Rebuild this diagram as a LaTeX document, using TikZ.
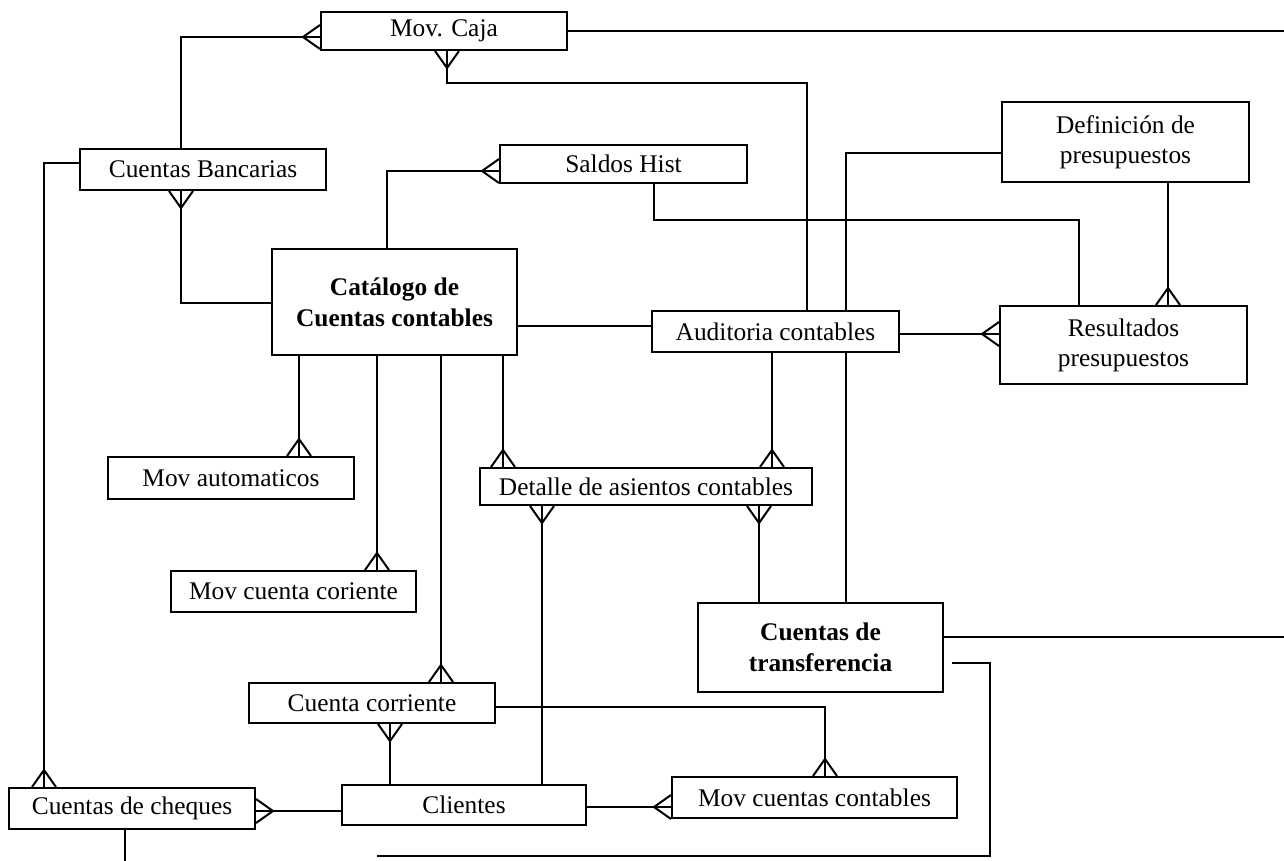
\documentclass[tikz,border=0pt]{standalone}
\usepackage{fontspec}
\setmainfont{Liberation Serif}
\usetikzlibrary{arrows.meta}

% crow's foot ("many" end of a relationship): two prongs opening towards the entity
\pgfdeclarearrow{
  name = Crow,
  parameters = {\the\pgfarrowlength,\the\pgfarrowwidth},
  setup code = {
    \pgfarrowssettipend{0pt}
    \pgfarrowssetlineend{0pt}
    \pgfarrowssetbackend{-\pgfarrowlength}
    \pgfarrowshullpoint{0pt}{0.5\pgfarrowwidth}
    \pgfarrowshullpoint{0pt}{-0.5\pgfarrowwidth}
    \pgfarrowshullpoint{-\pgfarrowlength}{0pt}
    \pgfarrowssavethe\pgfarrowlength
    \pgfarrowssavethe\pgfarrowwidth
  },
  drawing code = {
    \pgfsetdash{}{0pt}
    \pgfpathmoveto{\pgfqpoint{0pt}{0.5\pgfarrowwidth}}
    \pgfpathlineto{\pgfqpoint{-\pgfarrowlength}{0pt}}
    \pgfpathlineto{\pgfqpoint{0pt}{-0.5\pgfarrowwidth}}
    \pgfusepathqstroke
  },
  defaults = {length = 8.5pt, width = 12pt}
}

\pgfdeclarelayer{bg}
\pgfsetlayers{bg,main}

\begin{document}
\begin{tikzpicture}[x=0.5pt,y=-0.5pt,
  ent/.style={draw, line width=1pt, fill=white, inner sep=0pt, align=center,
    minimum width=123pt, font=\fontsize{12.7pt}{15pt}\selectfont},
  strong/.style={font=\fontsize{12.7pt}{15.5pt}\selectfont\bfseries},
  link/.style={line width=1pt}]

\useasboundingbox (0,0) rectangle (1284,861);

% entities
\node[ent, minimum height=19pt] (movcaja) at (444,31) {Mov. Caja};
\node[ent, minimum height=20.5pt] (banc) at (203,169.5) {Cuentas Bancarias};
\node[ent, minimum width=123.5pt, minimum height=19pt] (saldos) at (623.5,164) {Saldos Hist};
\node[ent, minimum width=123.5pt, minimum height=40pt] (defin) at (1125.5,142) {Definición de\\presupuestos};
\node[ent, strong, minimum width=122.5pt, minimum height=53pt] (catalogo) at (394.5,302) {Catálogo de\\Cuentas contables};
\node[ent, minimum width=123.5pt, minimum height=20.5pt] (audit) at (775.5,331.5) {Auditoria contables};
\node[ent, minimum width=123.5pt, minimum height=39pt] (result) at (1123.5,345) {Resultados\\presupuestos};
\node[ent, minimum height=21pt] (movauto) at (231,478) {Mov automaticos};
\node[ent, minimum width=166pt, minimum height=18.5pt] (detalle) at (646,486.5) {Detalle de asientos contables};
\node[ent, minimum width=122.5pt, minimum height=20.5pt] (movcc) at (293.5,591.5) {Mov cuenta coriente};
\node[ent, strong, minimum width=122.5pt, minimum height=44.5pt] (transf) at (820.5,647.5) {Cuentas de\\transferencia};
\node[ent, minimum height=20pt] (ctacorr) at (372,703) {Cuenta corriente};
\node[ent, minimum height=20.5pt] (cheques) at (132,808.5) {Cuentas de cheques};
\node[ent, minimum width=122pt, minimum height=20pt] (clientes) at (464,805) {Clientes};
\node[ent, minimum width=142.5pt, minimum height=20.5pt] (movctas) at (814.5,797.5) {Mov cuentas contables};

% bend points and free ends of the relationship lines
\coordinate (edgeA) at (1284,31);
\coordinate (bA) at (181,37);
\coordinate (bB1) at (447,83);
\coordinate (bB2) at (807,83);
\coordinate (bC) at (44,163);
\coordinate (bD) at (181,303);
\coordinate (bE) at (387,171);
\coordinate (bF1) at (654,220);
\coordinate (bF2) at (1079,220);
\coordinate (bG) at (846,153);
\coordinate (bH) at (1168,250);
\coordinate (bI) at (950,334);
\coordinate (bJ) at (580,326);
\coordinate (vK1) at (299,400);
\coordinate (vK2) at (377,400);
\coordinate (vK3) at (441,400);
\coordinate (vK4) at (503,400);
\coordinate (vL) at (772,400);
\coordinate (vM) at (542,600);
\coordinate (vN) at (759,550);
\coordinate (edgeO) at (1284,637);
\coordinate (bP1) at (990,663);
\coordinate (bP2) at (990,856);
\coordinate (endP) at (377,856);
\coordinate (vQ) at (390,750);
\coordinate (bR) at (825,707);
\coordinate (hS) at (300,811);
\coordinate (hT) at (630,807);
\coordinate (endU) at (125,861);

\begin{pgfonlayer}{bg}
\fill[white] (0,0) rectangle (1284,861);

\draw[link] (movcaja.east) -- (edgeA);
\draw[link,-Crow] (banc.north -| bA) -- (bA) -- (movcaja.west |- bA);
\draw[link,Crow-] (movcaja.south -| bB1) -- (bB1) -- (bB2) -- (audit.north -| bB2);
\draw[link,-Crow] (banc.west |- bC) -- (bC) -- (cheques.north -| bC);
\draw[link,Crow-] (banc.south -| bD) -- (bD) -- (catalogo.west |- bD);
\draw[link,-Crow] (catalogo.north -| bE) -- (bE) -- (saldos.west |- bE);
\draw[link] (saldos.south -| bF1) -- (bF1) -- (bF2) -- (result.north -| bF2);
\draw[link] (defin.west |- bG) -- (bG) -- (transf.north -| bG);
\draw[link,-Crow] (defin.south -| bH) -- (result.north -| bH);
\draw[link,-Crow] (audit.east |- bI) -- (result.west |- bI);
\draw[link] (catalogo.east |- bJ) -- (audit.west |- bJ);

\draw[link,-Crow] (catalogo.south -| vK1) -- (movauto.north -| vK1);
\draw[link,-Crow] (catalogo.south -| vK2) -- (movcc.north -| vK2);
\draw[link,-Crow] (catalogo.south -| vK3) -- (ctacorr.north -| vK3);
\draw[link,-Crow] (catalogo.south -| vK4) -- (detalle.north -| vK4);
\draw[link,-Crow] (audit.south -| vL) -- (detalle.north -| vL);
\draw[link,Crow-] (detalle.south -| vM) -- (clientes.north -| vM);
\draw[link,Crow-] (detalle.south -| vN) -- (transf.north -| vN);

\draw[link] (transf.east |- edgeO) -- (edgeO);
\draw[link] ([xshift=4pt]transf.east |- bP1) -- (bP1) -- (bP2) -- (endP);

\draw[link,Crow-] (ctacorr.south -| vQ) -- (clientes.north -| vQ);
\draw[link,-Crow] (ctacorr.east |- bR) -- (bR) -- (movctas.north -| bR);
\draw[link,-Crow] (clientes.west |- hS) -- (cheques.east |- hS);
\draw[link,-Crow] (clientes.east |- hT) -- (movctas.west |- hT);
\draw[link] (cheques.south -| endU) -- (endU);
\end{pgfonlayer}
\end{tikzpicture}
\end{document}
